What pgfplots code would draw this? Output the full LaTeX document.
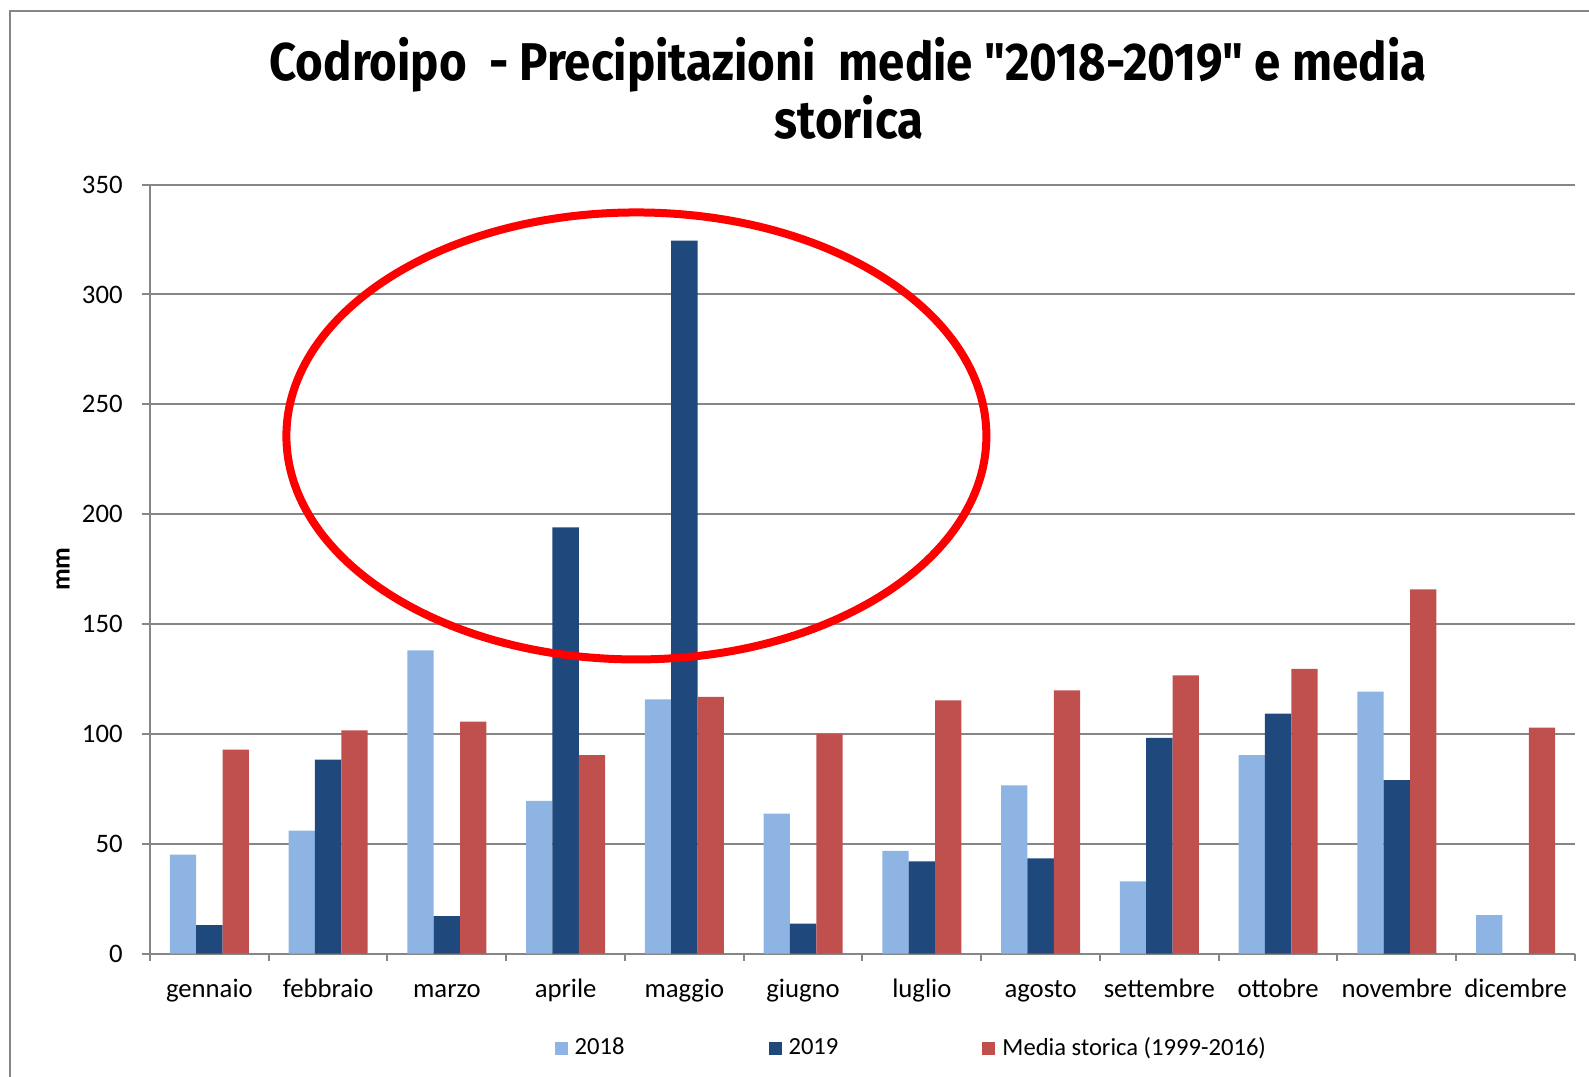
\documentclass[border=0pt]{standalone}
\usepackage{fontspec}
\setmainfont{Carlito}
\newfontfamily\titlefont{Fira Sans}
\usepackage{pgfplots}
\pgfplotsset{compat=1.18}
\definecolor{c18}{HTML}{8EB4E3}
\definecolor{c19}{HTML}{1F497D}
\definecolor{cmed}{HTML}{C0504D}
\definecolor{gridgray}{HTML}{868686}
\begin{document}
\begin{tikzpicture}
\useasboundingbox (0,0) rectangle (15.89cm,10.77cm);
\draw[gridgray, line width=0.2mm] (0.10cm,-1cm) -- (0.10cm,10.66cm) -- (17cm,10.66cm);
\node[anchor=base, font=\titlefont\bfseries\fontsize{13.5}{16}\selectfont] at (8.48cm,9.96cm) {\scalebox{1}[1.12]{Codroipo\ \ - Precipitazioni\ \ medie "2018-2019" e media}};
\node[anchor=base, font=\titlefont\bfseries\fontsize{13.5}{16}\selectfont] at (8.49cm,9.38cm) {\scalebox{1}[1.12]{storica}};
\begin{axis}[
  at={(1.50cm,1.234cm)}, anchor=south west,
  scale only axis, width=14.25cm, height=7.69cm,
  ymin=0, ymax=350, xmin=-0.5, xmax=11.5,
  ytick={0,50,...,350},
  xtick={0,...,11},
  xticklabels={gennaio,febbraio,marzo,aprile,maggio,giugno,luglio,agosto,settembre,ottobre,novembre,dicembre},
  xtick style={draw=none},
  extra x ticks={-0.5,0.5,...,11.5},
  extra x tick labels={},
  extra x tick style={xtick style={draw=gridgray, line width=0.2mm}, major tick length=0.7mm, tick align=outside, grid=none},
  ytick style={draw=gridgray, line width=0.2mm},
  major tick length=0.8mm, tick align=outside,
  axis x line*=bottom, axis y line*=left,
  axis line style={draw=gridgray, line width=0.2mm, -},
  ymajorgrids, grid style={draw=gridgray, line width=0.2mm},
  tick label style={font=\fontsize{7.6}{9}\selectfont, text=black},
  /pgf/number format/assume math mode=true,
  xticklabel style={yshift=0.3mm, text height=1.6ex, text depth=0.45ex},
  yticklabel style={xshift=-0.7mm},
  ylabel={\textbf{mm}},
  ylabel style={at={(axis description cs:-0.061,0.5)}, anchor=center, font=\fontsize{7.6}{9}\selectfont},
  ybar=0pt, bar width=0.222,
  legend style={draw=none, fill=none, at={(0.536,-0.124)}, anchor=center,
    font=\fontsize{7.0}{9}\selectfont, legend columns=3,
    /tikz/every even column/.append style={column sep=13.7mm}},
]
\addplot[fill=c18, draw=none, legend image code/.code={\fill[c18] (0cm,-0.065cm) rectangle (0.13cm,0.065cm);}] coordinates {
(0,45) (1,56) (2,138) (3,69.5) (4,115.7) (5,63.7) (6,46.7) (7,76.6) (8,32.9) (9,90.3) (10,119.2) (11,17.5)};
\addplot[fill=c19, draw=none, legend image code/.code={\fill[c19] (0cm,-0.065cm) rectangle (0.13cm,0.065cm);}] coordinates {
(0,13) (1,88.3) (2,17) (3,194) (4,324.5) (5,13.6) (6,42) (7,43.3) (8,98.2) (9,109.2) (10,78.9) (11,0)};
\addplot[fill=cmed, draw=none, legend image code/.code={\fill[cmed] (0cm,-0.065cm) rectangle (0.13cm,0.065cm);}] coordinates {
(0,92.8) (1,101.6) (2,105.6) (3,90.3) (4,116.8) (5,100) (6,115.3) (7,119.8) (8,126.6) (9,129.6) (10,165.8) (11,102.8)};
\legend{2018,2019,Media storica (1999-2016)}
\draw[red, line width=0.8mm] (axis cs:3.596,235.6) ellipse [x radius=3.50cm, y radius=2.235cm];
\end{axis}
\end{tikzpicture}
\end{document}
